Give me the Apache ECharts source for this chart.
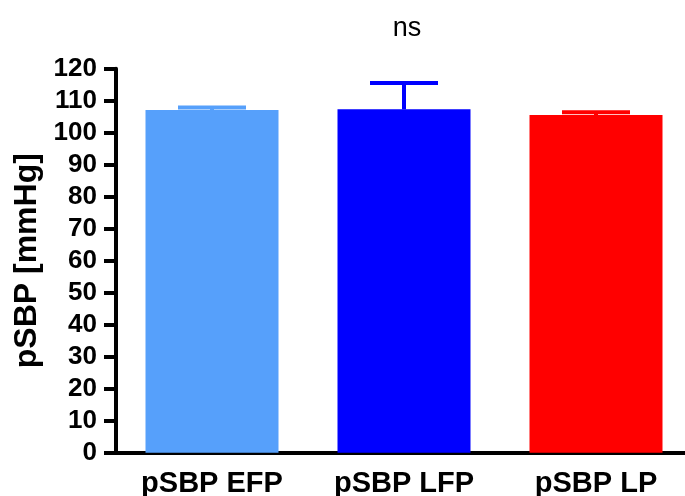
<!DOCTYPE html>
<html>
<head>
<meta charset="utf-8">
<script src="https://cdn.jsdelivr.net/npm/echarts@6/dist/echarts.min.js"></script>
<style>html,body{margin:0;padding:0;background:#fff;}#c{width:685px;height:496px;}</style>
</head>
<body>
<div id="c"></div>
<script>
const categories = ['pSBP EFP', 'pSBP LFP', 'pSBP LP'];
const means = [107.1, 107.3, 105.5];
const errors = [0.8, 8.2, 0.9];
const barColors = ['#56A0FB', '#0000FF', '#FF0000'];
const yTicks = { min: 0, max: 120, interval: 10 };

const FONT = '"Liberation Sans", Arial, Helvetica, sans-serif';
const chart = echarts.init(document.getElementById('c'), null, { renderer: 'canvas' });

const errData = categories.map((c, i) => [i, means[i], means[i] + errors[i]]);

chart.setOption({
  animation: false,
  backgroundColor: '#fff',
  grid: { left: 116, top: 68.7, width: 576, height: 384, containLabel: false, outerBoundsMode: 'none' },
  graphic: [{
    type: 'text', x: 407, y: 29,
    style: { text: 'ns', font: '27px ' + FONT, fill: '#000', textAlign: 'center', textVerticalAlign: 'middle' }
  }],
  xAxis: {
    type: 'category', data: categories,
    axisLine: { lineStyle: { color: '#000', width: 4 } },
    axisTick: { alignWithLabel: true, length: 12, lineStyle: { color: '#000', width: 4 } },
    axisLabel: { color: '#000', fontWeight: 'bold', fontSize: 29, fontFamily: FONT, margin: 17 }
  },
  yAxis: {
    type: 'value', min: yTicks.min, max: yTicks.max, interval: yTicks.interval,
    name: 'pSBP [mmHg]', nameLocation: 'middle', nameGap: 71,
    nameTextStyle: { color: '#000', fontWeight: 'bold', fontSize: 32, fontFamily: FONT },
    axisLine: { show: true, lineStyle: { color: '#000', width: 4 } },
    axisTick: { show: true, length: 12, lineStyle: { color: '#000', width: 4 } },
    splitLine: { show: false },
    axisLabel: { color: '#000', fontWeight: 'bold', fontSize: 26, fontFamily: FONT, margin: 19 }
  },
  series: [
    {
      type: 'bar', barWidth: 133,
      data: means.map((v, i) => ({ value: v, itemStyle: { color: barColors[i] } })),
      z: 2
    },
    {
      type: 'custom', z: 3,
      data: errData,
      renderItem: function (params, api) {
        const i = api.value(0);
        const base = api.coord([i, api.value(1)]);
        const top = api.coord([i, api.value(2)]);
        const col = barColors[i];
        const hw = 34;
        return {
          type: 'group',
          children: [
            { type: 'line', shape: { x1: base[0], y1: base[1], x2: top[0], y2: top[1] },
              style: { stroke: col, lineWidth: 4 } },
            { type: 'line', shape: { x1: top[0] - hw, y1: top[1], x2: top[0] + hw, y2: top[1] },
              style: { stroke: col, lineWidth: 4 } }
          ]
        };
      }
    }
  ]
});
</script>
</body>
</html>
